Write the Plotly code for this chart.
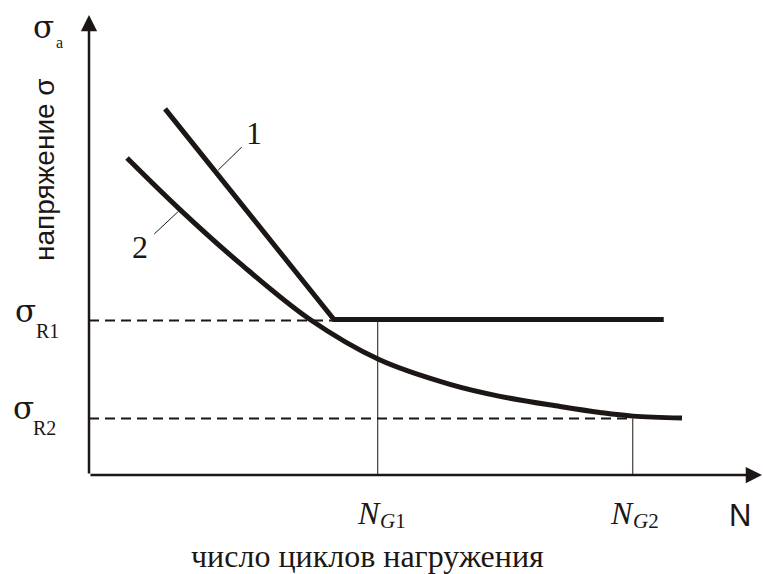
import plotly.graph_objects as go

# ---- data (abstract units: x = log N scale 0..10, y = stress 0..100) ----
curve1_x = [1.13, 3.64, 8.54]
curve1_y = [79.6, 33.8, 33.8]

curve2_x = [0.565, 1.352, 2.244, 3.284, 4.309, 5.364, 6.107, 6.999, 7.593, 8.083, 8.811]
curve2_y = [68.9, 57.7, 46.0, 33.8, 25.1, 19.7, 17.1, 14.9, 13.6, 12.8, 12.4]

sigma_R1 = 33.6
sigma_R2 = 12.3
N_G1 = 4.29
N_G2 = 8.08
knee_x = 3.64

leader1_x = [1.92, 2.27]
leader1_y = [66.3, 71.3]
leader2_x = [0.97, 1.32]
leader2_y = [52.4, 57.2]

x_range = [0, 10]
y_range = [0, 100]

INK = "#1c1714"
SERIF = "Liberation Serif"
SANS = "Liberation Sans"
SIGMA = "DejaVu Serif"

fig = go.Figure()

# dashed reference levels
fig.add_trace(go.Scatter(x=[0, knee_x], y=[sigma_R1, sigma_R1], mode="lines",
                         line=dict(color=INK, width=2, dash="10px,6px"), hoverinfo="skip"))
fig.add_trace(go.Scatter(x=[0, N_G2], y=[sigma_R2, sigma_R2], mode="lines",
                         line=dict(color=INK, width=2, dash="10px,6px"), hoverinfo="skip"))
# vertical drop lines
fig.add_trace(go.Scatter(x=[N_G1, N_G1], y=[0, sigma_R1], mode="lines",
                         line=dict(color=INK, width=1), hoverinfo="skip"))
fig.add_trace(go.Scatter(x=[N_G2, N_G2], y=[0, sigma_R2], mode="lines",
                         line=dict(color=INK, width=1), hoverinfo="skip"))
# leader lines
fig.add_trace(go.Scatter(x=leader1_x, y=leader1_y, mode="lines",
                         line=dict(color=INK, width=1), hoverinfo="skip"))
fig.add_trace(go.Scatter(x=leader2_x, y=leader2_y, mode="lines",
                         line=dict(color=INK, width=1), hoverinfo="skip"))
# curves
fig.add_trace(go.Scatter(x=curve1_x, y=curve1_y, mode="lines",
                         line=dict(color=INK, width=5), hoverinfo="skip"))
fig.add_trace(go.Scatter(x=curve2_x, y=curve2_y, mode="lines",
                         line=dict(color=INK, width=5, shape="spline", smoothing=1.0),
                         hoverinfo="skip"))

ann = []
# axes with arrows
ann.append(dict(x=0, y=y_range[1], ax=0, ay=0, xref="x", yref="y", axref="x", ayref="y",
                text="", showarrow=True, arrowhead=2, arrowsize=1.3, arrowwidth=2.5,
                arrowcolor=INK, standoff=0))
ann.append(dict(x=x_range[1], y=0, ax=0, ay=0, xref="x", yref="y", axref="x", ayref="y",
                text="", showarrow=True, arrowhead=2, arrowsize=1.3, arrowwidth=2.5,
                arrowcolor=INK, standoff=0))


def txt(text, x, y, size, family=SERIF, xref="paper", yref="paper", angle=0, **kw):
    ann.append(dict(text=text, x=x, y=y, xref=xref, yref=yref, showarrow=False,
                    font=dict(family=family, size=size, color=INK), textangle=angle,
                    xanchor="center", yanchor="middle", **kw))


W0, W = 89, 673
H0, H = 475, 460
px = lambda p: (p - W0) / W
py = lambda p: (H0 - p) / H

# sigma_a
txt("σ", px(43), py(27), 31, family=SIGMA)
txt("a", px(59), py(43), 16)
# vertical axis title
txt("напряжение σ", px(44), py(170), 28, family=SANS, angle=-90)
# sigma_R labels
txt("σ", px(25), sigma_R1 + 2.0, 31, family=SIGMA, yref="y")
txt("R1", px(47), sigma_R1 - 2.4, 20, yref="y")
txt("σ", px(23), sigma_R2 + 2.2, 31, family=SIGMA, yref="y")
txt("R2", px(44), sigma_R2 - 2.0, 20, yref="y")
# N_G labels
txt("<i>N</i>", N_G1 - 0.13, py(513), 32, xref="x")
txt("<i>G</i>1", N_G1 + 0.22, py(521), 21, xref="x")
txt("<i>N</i>", N_G2 - 0.16, py(513), 32, xref="x")
txt("<i>G</i>2", N_G2 + 0.19, py(521), 21, xref="x")
txt("N", px(740), py(515), 31, family=SANS)
# x title
txt("число циклов нагружения", px(367), py(556), 32)
# curve labels
txt("1", px(254), py(133), 32)
txt("2", px(140), py(247), 32)

fig.update_layout(
    width=763, height=574,
    margin=dict(l=W0, r=763 - W0 - W, t=15, b=574 - H0),
    paper_bgcolor="white", plot_bgcolor="white",
    showlegend=False,
    xaxis=dict(range=x_range, visible=False, fixedrange=True),
    yaxis=dict(range=y_range, visible=False, fixedrange=True),
    annotations=ann,
)

fig.write_html("out.html", config={"displayModeBar": False})
